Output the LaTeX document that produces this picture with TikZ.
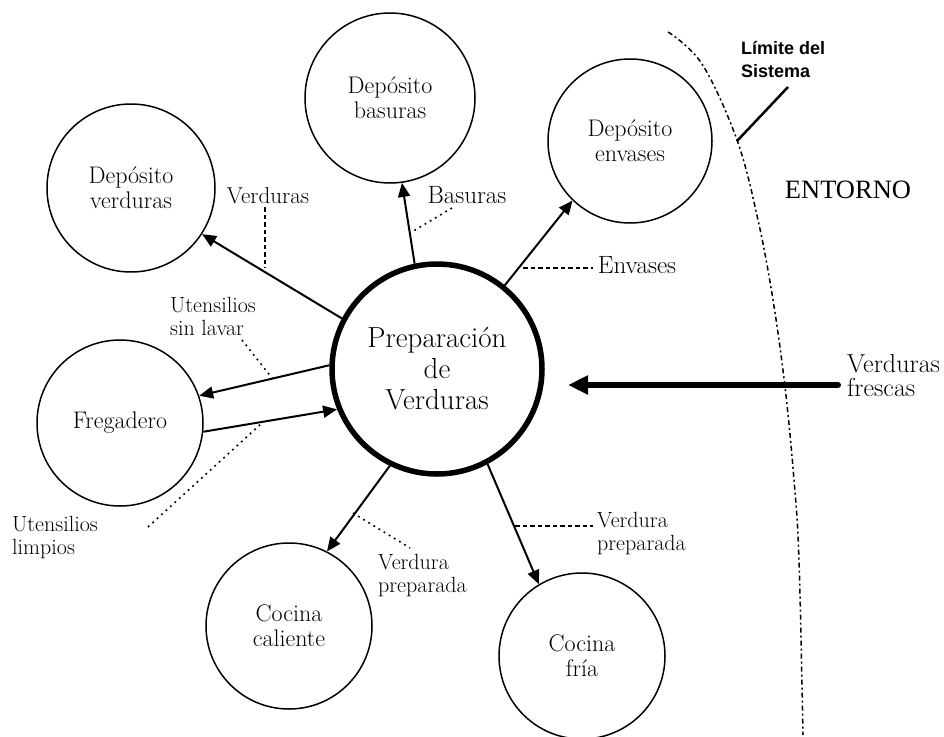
\documentclass[tikz,border=0pt]{standalone}
\usepackage{fontspec}
\newfontfamily\sansfam{Liberation Sans}
\newfontfamily\timesfam{Liberation Serif}
\usetikzlibrary{arrows.meta}
\begin{document}
\begin{tikzpicture}[x=1pt,y=-1pt,
  proc/.style={circle,draw,line width=1.5pt,inner sep=0pt,align=center,font=\fontsize{24}{25}\selectfont},
  conn/.style={line width=2pt,-{Triangle[length=14pt,width=12pt]}},
  lbl/.style={inner sep=0pt,align=left,font=\fontsize{22}{23}\selectfont},
  leaddot/.style={line width=1.6pt,dash pattern=on 1.8pt off 4.2pt},
  leaddash/.style={line width=1.6pt,dash pattern=on 4.5pt off 3pt}]
\useasboundingbox (0,0) rectangle (944,736);
% circles
\node[proc,minimum size=168pt] (dv) at (131,188) {Depósito\\verduras};
\node[proc,minimum size=170pt] (db) at (390,98) {Depósito\\basuras};
\node[proc,minimum size=164pt] (de) at (630,141) {Depósito\\envases};
\node[proc,minimum size=166pt] (fr) at (120,423) {Fregadero};
\node[proc,minimum size=166pt] (cc) at (289,626) {Cocina\\caliente};
\node[proc,minimum size=166pt] (cf) at (582,656) {Cocina\\fría};
\node[proc,line width=5.5pt,minimum size=210pt,font=\fontsize{29}{31}\selectfont] (prep) at (437,369) {Preparación\\de\\Verduras};
% connectors
\draw[conn] (prep.152.5) -- (dv.327);
\draw[conn] (prep.102.8) -- (db.278);
\draw[conn] (prep.51.7) -- (de.226);
\draw[conn] (prep.178) -- (fr.19);
\draw[conn] (fr.-6) -- (prep.202);
\draw[conn] (prep.244) -- (cc.63);
\draw[conn] (prep.298) -- (cf.121);
% verduras frescas
\coordinate (vfs) at (838,385);
\coordinate (vfe) at (568,385);
\draw[line width=6pt,line cap=round,-{Triangle[length=20pt,width=18pt]}] (vfs) -- (vfe);
% labels
\node[lbl,anchor=center,font=\fontsize{23}{23}\selectfont] (lv) at (268,196) {Verduras};
\node[lbl,anchor=center,font=\fontsize{25}{23}\selectfont] (lb) at (467,195) {Basuras};
\node[lbl,anchor=center,font=\fontsize{25}{23}\selectfont] (le) at (637,265) {Envases};
\node[lbl,anchor=west] (lus) at (170,316) {Utensilios\\sin lavar};
\node[lbl,anchor=west] (lul) at (12,538) {Utensilios\\limpios};
\node[lbl,anchor=west] (lvc) at (378,576) {Verdura\\preparada};
\node[lbl,anchor=west] (lvf) at (597,534) {Verdura\\preparada};
\node[lbl,anchor=west,font=\fontsize{26}{24}\selectfont] (lvfr) at (847,376) {Verduras\\frescas};
\node[inner sep=0pt,font=\timesfam\fontsize{26.5}{28}\selectfont] (ent) at (848,190) {ENTORNO};
\node[inner sep=0pt,align=left,anchor=west,font=\sansfam\bfseries\fontsize{18}{23}\selectfont] (lim) at (741,59) {Límite del\\Sistema};
% leader lines
\coordinate (av) at (265,268);
\draw[leaddash] ([yshift=-3pt]lv.south -| av) -- (av);
\coordinate (ab1) at (452,208);
\coordinate (ab2) at (410,233);
\draw[leaddot] (ab1) -- (ab2);
\coordinate (ae1) at (523,268);
\coordinate (ae2) at (593,268);
\draw[leaddash] (ae1) -- (ae2);
\coordinate (aus1) at (242,340);
\coordinate (aus2) at (272,378);
\draw[leaddot] (aus1) -- (aus2);
\coordinate (aul1) at (148,527);
\coordinate (aul2) at (262,423);
\draw[leaddot] (aul1) -- (aul2);
\coordinate (avc1) at (353,513);
\coordinate (avc2) at (410,548);
\draw[leaddot] (avc1) -- (avc2);
\coordinate (avf1) at (515,526);
\coordinate (avf2) at (593,526);
\draw[leaddash] (avf1) -- (avf2);
% system boundary
\draw[line width=1.5pt,dash pattern=on 5pt off 3pt on 2pt off 3pt] plot[smooth,tension=0.6] coordinates {(668,32) (702,64) (737,140) (758,220) (773,300) (785,387) (794,480) (799,560) (803,735)};
\coordinate (limpt) at (737,141);
\coordinate (limend) at (788,87);
\draw[line width=2.5pt] (limpt) -- (limend);
\end{tikzpicture}
\end{document}
